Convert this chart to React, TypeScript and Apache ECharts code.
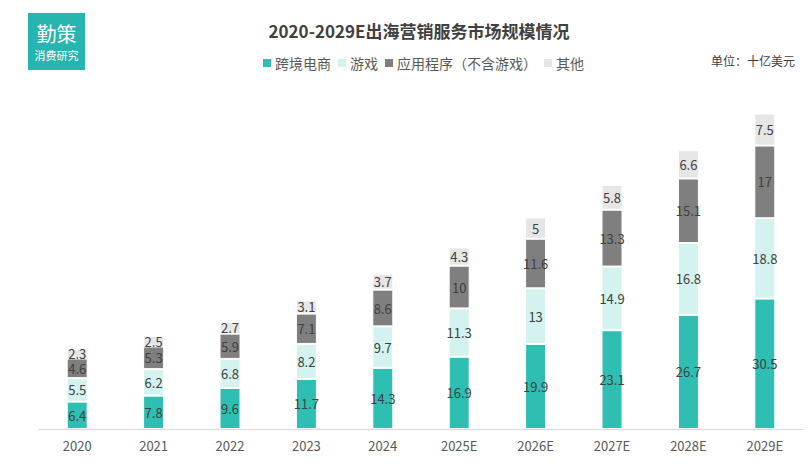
import React, { useEffect, useRef } from "react";
import * as echarts from "echarts";

const categories = ["2020", "2021", "2022", "2023", "2024", "2025E", "2026E", "2027E", "2028E", "2029E"];
const ecommerce = [6.4, 7.8, 9.6, 11.7, 14.3, 16.9, 19.9, 23.1, 26.7, 30.5];
const games = [5.5, 6.2, 6.8, 8.2, 9.7, 11.3, 13, 14.9, 16.8, 18.8];
const apps = [4.6, 5.3, 5.9, 7.1, 8.6, 10, 11.6, 13.3, 15.1, 17];
const others = [2.3, 2.5, 2.7, 3.1, 3.7, 4.3, 5, 5.8, 6.6, 7.5];
const seriesNames = ["跨境电商", "游戏", "应用程序（不含游戏）", "其他"];
const colors = ["#2EBFB2", "#D4F3F0", "#7F7F7F", "#E6E6E6"];

const FONT = "'Noto Sans CJK SC', 'Noto Sans', sans-serif";

export default function App() {
  const ref = useRef<HTMLDivElement>(null);
  useEffect(() => {
    if (!ref.current) return;
    const chart = echarts.init(ref.current, null, { renderer: "svg" });
    const data = [ecommerce, games, apps, others];
    chart.setOption({
      animation: false,
      textStyle: { fontFamily: FONT },
      legend: {
        data: seriesNames,
        left: 256,
        top: 51,
        itemWidth: 10,
        itemHeight: 10,
        itemGap: 5,
        icon: "rect",
        textStyle: { fontSize: 14, color: "#595959", fontFamily: FONT, padding: [0, 0, 0, -2] },
      },
      graphic: [
        { type: "rect", shape: { x: 28, y: 13, width: 57, height: 57 }, style: { fill: "#27B5B0" } },
        {
          type: "text",
          x: 56.5,
          y: 33,
          style: { text: "勤策", fill: "#fff", font: `20px ${FONT}`, textAlign: "center", textVerticalAlign: "middle" },
        },
        {
          type: "text",
          x: 56.5,
          y: 55,
          style: { text: "消费研究", fill: "#fff", font: `11px ${FONT}`, textAlign: "center", textVerticalAlign: "middle" },
        },
        {
          type: "text",
          x: 419,
          y: 30,
          style: {
            text: "2020-2029E出海营销服务市场规模情况",
            fill: "#404040",
            font: `bold 17px ${FONT}`,
            textAlign: "center",
            textVerticalAlign: "middle",
          },
        },
        {
          type: "text",
          x: 795,
          y: 60,
          style: { text: "单位：十亿美元", fill: "#404040", font: `12px ${FONT}`, textAlign: "right", textVerticalAlign: "middle" },
        },
      ],
      grid: { left: 39, right: 8, top: 87, height: 342, containLabel: false },
      xAxis: {
        type: "category",
        data: categories,
        axisLine: { lineStyle: { color: "#D9D9D9", width: 1 } },
        axisTick: { show: false },
        axisLabel: { color: "#595959", fontSize: 13, margin: 10, fontFamily: FONT },
      },
      yAxis: {
        type: "value",
        min: 0,
        max: 80,
        show: false,
        splitLine: { show: false },
      },
      series: seriesNames.map((name, i) => ({
        name,
        type: "bar",
        stack: "total",
        barWidth: 21,
        data: data[i],
        itemStyle: { color: colors[i], borderColor: "#fff", borderWidth: 1 },
        label: {
          show: true,
          position: "inside",
          color: "#404040",
          fontSize: 13,
          lineHeight: 12,
          fontFamily: FONT,
        },
      })),
    });
    return () => chart.dispose();
  }, []);
  return <div ref={ref} style={{ width: 811, height: 472, position: "absolute", left: 0, top: 0 }} />;
}
